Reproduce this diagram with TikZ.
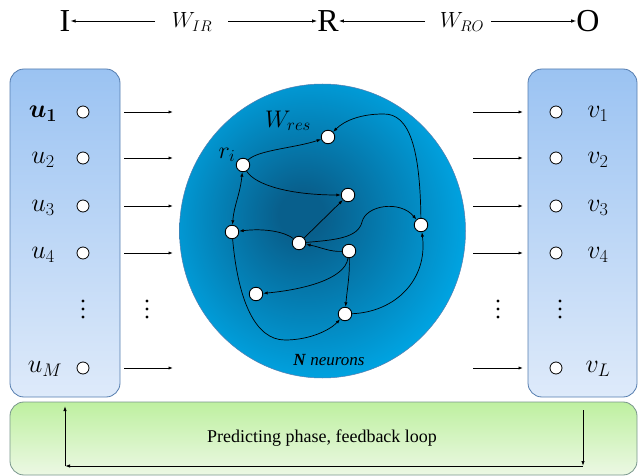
\RequirePackage{fix-cm}
\documentclass[tikz,border=0pt]{standalone}
\usepackage{amsmath}
\usepackage{fontspec}
\setmainfont{Liberation Serif}
\usetikzlibrary{arrows.meta,shapes.geometric,calc}
\definecolor{resdk}{RGB}{8,95,140}
\definecolor{reslt}{RGB}{0,163,225}
\definecolor{panbd}{RGB}{85,125,175}
\definecolor{pantop}{RGB}{155,195,242}
\definecolor{panbot}{RGB}{222,234,250}
\definecolor{grtop}{RGB}{190,240,160}
\definecolor{grbot}{RGB}{236,248,228}
\definecolor{grbd}{RGB}{120,150,140}
\pgfdeclareradialshading{resshade}{\pgfpoint{-4bp}{3bp}}{color(0bp)=(resdk); color(4bp)=(resdk); color(27bp)=(reslt); color(50bp)=(reslt)}
\begin{document}
\begin{tikzpicture}[x=1pt,y=-1pt,
  panel/.style={draw=panbd, line width=0.8, rounded corners=14, top color=pantop, bottom color=panbot},
  io/.style={circle, draw=black, fill=white, minimum size=12, inner sep=0, line width=0.8},
  neuron/.style={circle, draw=black, fill=white, minimum size=13.5, inner sep=0, line width=0.9},
  dotn/.style={circle, fill=black, minimum size=3.2, inner sep=0},
  edge/.style={line width=0.7, -{Latex[length=4.5pt,width=3.2pt]}},
  darr/.style={line width=0.7, {Latex[length=4.5pt,width=3.2pt]}-{Latex[length=4.5pt,width=3.2pt]}},
  feed/.style={line width=0.9, -{Latex[length=5pt,width=3.5pt]}},
  lbl/.style={inner sep=0, font=\fontsize{26}{30}\selectfont},
  big/.style={inner sep=0, font=\fontsize{32}{36}\selectfont},
  mid/.style={inner sep=0, font=\fontsize{22}{26}\selectfont}
]
\useasboundingbox (0,0) rectangle (641,476);

% top row
\node[big] (I) at (65,21) {I};
\node[mid] (WIR) at (192,22) {$W_{IR}$};
\node[big] (R) at (328,21) {R};
\node[mid] (WRO) at (462,22) {$W_{RO}$};
\node[big] (O) at (588,21) {O};
\coordinate (a1) at (155,21);
\coordinate (a2) at (228,21);
\coordinate (a3) at (425,21);
\coordinate (a4) at (491,21);
\draw[feed, line width=0.8] (a1) -- (I.east);
\draw[feed, line width=0.8] (a2) -- (R.west);
\draw[feed, line width=0.8] (a3) -- (R.east);
\draw[feed, line width=0.8] (a4) -- (O.west);

% panels
\node[panel, minimum width=110, minimum height=328] (inp) at (65,233) {};
\node[panel, minimum width=109, minimum height=328] (outp) at (582.5,233) {};
\node[draw=grbd, line width=0.8, rounded corners=14, top color=grtop, bottom color=grbot,
      minimum width=627, minimum height=73] (fb) at (323.5,438.5) {};

% reservoir
\node[ellipse, draw=panbd, line width=0.5, shading=resshade, minimum width=286, minimum height=294, inner sep=0] (res) at (322.5,231) {};

% inputs
\foreach \i/\y in {1/112,2/158,3/206,4/253,M/368}{
  \node[io] (u\i) at (83,\y) {};
  \coordinate (ia\i) at (124,\y);
  \coordinate (ib\i) at (173,\y);
  \draw[edge, line width=0.8] (ia\i) -- (ib\i);
}
\node[lbl] (lu1) at (43,114) {$\boldsymbol{u_1}$};
\node[lbl] (lu2) at (43,160) {$u_2$};
\node[lbl] (lu3) at (43,208) {$u_3$};
\node[lbl] (lu4) at (43,255) {$u_4$};
\node[lbl] (luM) at (45,369) {$u_M$};

% outputs
\foreach \i/\y in {1/112,2/158,3/206,4/253,L/368}{
  \node[io] (v\i) at (556,\y) {};
  \coordinate (oa\i) at (473,\y);
  \coordinate (ob\i) at (523,\y);
  \draw[edge, line width=0.8] (oa\i) -- (ob\i);
}
\node[lbl] (lv1) at (598,114) {$v_1$};
\node[lbl] (lv2) at (598,160) {$v_2$};
\node[lbl] (lv3) at (598,208) {$v_3$};
\node[lbl] (lv4) at (598,255) {$v_4$};
\node[lbl] (lvL) at (598,369) {$v_L$};

% vertical dots
\foreach \n/\x in {du/83,da/147,db/498,dv/560}{
  \node[dotn] (\n1) at (\x,301) {};
  \node[dotn] (\n2) at (\x,309) {};
  \node[dotn] (\n3) at (\x,317) {};
}

% reservoir labels
\node[inner sep=0, font=\fontsize{24}{28}\selectfont] (wres) at (288,121) {$W_{res}$};
\node[inner sep=0, font=\fontsize{24}{28}\selectfont] (rilab) at (227,155) {$r_i$};
\node[inner sep=0, font=\fontsize{17}{20}\selectfont] (nn) at (329,360) {\textbf{\textit{N}} \textit{neurons}};

% neurons
\node[neuron] (n1) at (328,137) {};
\node[neuron] (ri) at (243,165) {};
\node[neuron] (n3) at (348,195) {};
\node[neuron] (n4) at (232,232) {};
\node[neuron] (n5) at (299,243) {};
\node[neuron] (n6) at (421,225) {};
\node[neuron] (n7) at (349,251) {};
\node[neuron] (n8) at (256,294) {};
\node[neuron] (n9) at (345,314) {};

% edges
\draw[edge] (ri) .. controls (258,150) and (295,148) .. (n1);
\draw[edge] (n6) .. controls (420,150) and (410,113) .. (383,114) .. controls (362,114) and (345,120) .. (n1);
\draw[edge] (ri) .. controls (255,185) and (290,195) .. (n3);
\draw[darr] (ri) .. controls (240,195) and (234,205) .. (n4);
\draw[edge] (n5) .. controls (285,232) and (265,228) .. (n4);
\draw[edge] (n5) -- (n3);
\draw[edge] (n5) .. controls (335,240) and (358,238) .. (362,222) .. controls (366,205) and (400,200) .. (n6);
\draw[edge] (n7) .. controls (330,252) and (320,247) .. (n5);
\draw[edge] (n7) .. controls (345,280) and (300,290) .. (n8);
\draw[edge] (n7) .. controls (350,275) and (347,290) .. (n9);
\draw[edge] (n4) .. controls (238,300) and (255,340) .. (285,340) .. controls (310,340) and (330,330) .. (n9);
\draw[edge] (n9) .. controls (395,312) and (428,280) .. (n6);

% feedback loop
\node[inner sep=0, font=\fontsize{18}{21}\selectfont] (fbt) at (322,438) {Predicting phase, feedback loop};
\coordinate (fr1) at (583,410);
\coordinate (fr2) at (583,466);
\coordinate (fl2) at (65,466);
\coordinate (fl1) at (65,406);
\draw[feed] (fr1) -- (fr2);
\draw[feed] (fr2) -- (fl2);
\draw[feed] (fl2) -- (fl1);
\end{tikzpicture}
\end{document}
